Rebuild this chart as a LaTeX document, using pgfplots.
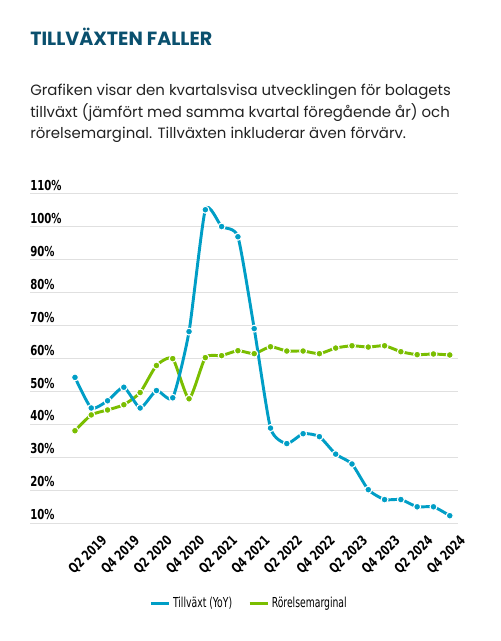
\documentclass[border=0pt]{standalone}
\usepackage{fontspec}
\usepackage{pgfplots}
\pgfplotsset{compat=1.18}
\setmainfont{Poppins}
\newfontfamily\tickfont[FakeStretch=0.82]{DejaVu Sans Condensed}
\newfontfamily\legendfont[FakeStretch=0.75]{DejaVu Sans Condensed}
\definecolor{tvblue}{RGB}{0,158,198}
\definecolor{tvgreen}{RGB}{122,190,0}
\definecolor{titleblue}{RGB}{10,80,110}
\definecolor{bodytext}{RGB}{34,34,34}
\definecolor{gridgray}{RGB}{224,224,224}

\begin{document}
\begin{tikzpicture}
% 1 px i referensen = 0.75pt
\useasboundingbox (0pt,0pt) rectangle (375pt,480.75pt);

% titel och ingress
\node[anchor=base west, inner sep=0pt, text=titleblue,
      font=\fontsize{14.3}{16}\selectfont\bfseries] at (22.5pt,446.5pt) {TILLVÄXTEN FALLER};
\begin{scope}[every node/.style={anchor=base west, inner sep=0pt, text=bodytext,
      font=\fontsize{11.2}{16}\selectfont}]
\node at (22.5pt,408.75pt) {Grafiken visar den kvartalsvisa utvecklingen för bolagets};
\node at (22.5pt,392.6pt) {tillväxt (jämfört med samma kvartal föregående år) och};
\node at (22.5pt,376.5pt) {rörelsemarginal. Tillväxten inkluderar även förvärv.};
\end{scope}

\begin{axis}[
    at={(22.5pt,88.3pt)}, anchor=south west,
    scale only axis,
    width=320.8pt, height=247pt,
    xmin=-2.76, xmax=23.49,
    ymin=10, ymax=110,
    clip=false,
    axis line style={draw=none},
    major tick length=0pt,
    ymajorgrids,
    grid style={gridgray, line width=0.75pt},
    ytick={10,20,...,110},
    yticklabels={10\%,20\%,30\%,40\%,50\%,60\%,70\%,80\%,90\%,100\%,110\%},
    yticklabel style={anchor=south west, inner sep=0pt, yshift=2.3pt,
        font=\tickfont\bfseries\fontsize{10.3}{12}\selectfont, text=black},
    xtick={1,3,...,23},
    xticklabels={Q2 2019,Q4 2019,Q2 2020,Q4 2020,Q2 2021,Q4 2021,
                 Q2 2022,Q4 2022,Q2 2023,Q4 2023,Q2 2024,Q4 2024},
    xticklabel style={rotate=45, anchor=north east, inner sep=0pt,
        xshift=-0.75pt, yshift=-10.5pt,
        font=\tickfont\bfseries\fontsize{10.3}{12}\selectfont, text=black},
    legend columns=2,
    reverse legend,
    legend style={at={(0.513,-0.243)}, anchor=center, draw=none, fill=none,
        font=\legendfont\fontsize{10.3}{12}\selectfont,
        /tikz/every even column/.append style={column sep=10pt}},
    legend image code/.code={\draw[#1, line width=2.2pt] (0pt,0pt) -- (13.5pt,0pt);},
]

\addplot[tvgreen, line width=2.2pt, smooth, tension=0.35,
    mark=*, mark size=2.6pt,
    mark options={fill=tvgreen, draw=white, line width=0.8pt}]
coordinates {
    (0,38.1) (1,42.9) (2,44.4) (3,46.0) (4,49.7) (5,57.9)
    (6,60.0) (7,47.8) (8,60.3) (9,60.9) (10,62.4) (11,61.5)
    (12,63.6) (13,62.3) (14,62.3) (15,61.5) (16,63.2) (17,63.9)
    (18,63.5) (19,63.9) (20,62.1) (21,61.2) (22,61.4) (23,61.1)
};
\addlegendentry{Rörelsemarginal}

\addplot[tvblue, line width=2.2pt, smooth, tension=0.35,
    mark=*, mark size=2.6pt,
    mark options={fill=tvblue, draw=white, line width=0.8pt}]
coordinates {
    (0,54.3) (1,45.0) (2,47.2) (3,51.3) (4,45.0) (5,50.3)
    (6,48.1) (7,68.2) (8,105.2) (9,100.1) (10,97.0) (11,69.1)
    (12,38.9) (13,34.2) (14,37.2) (15,36.3) (16,31.0) (17,28.0)
    (18,20.2) (19,17.2) (20,17.2) (21,15.0) (22,15.0) (23,12.3)
};
\addlegendentry{Tillväxt (YoY)}

\end{axis}
\end{tikzpicture}
\end{document}
